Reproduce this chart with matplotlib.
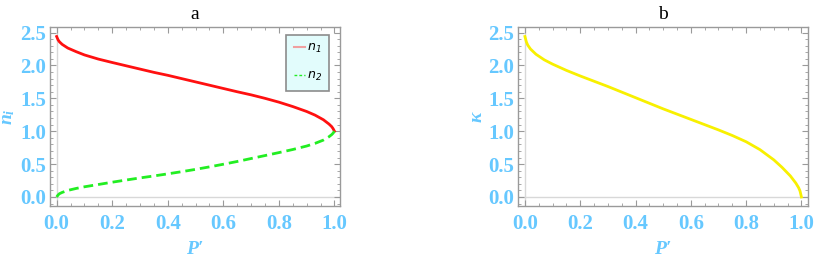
import numpy as np
import matplotlib
matplotlib.use("Agg")
from matplotlib import pyplot as plt
from matplotlib.lines import Line2D
import matplotlib.ticker as ticker

# values
p = [0.0, 0.005, 0.01, 0.02, 0.04, 0.07, 0.1, 0.15, 0.2, 0.25, 0.3, 0.35, 0.4,
     0.45, 0.5, 0.55, 0.6, 0.65, 0.7, 0.75, 0.8, 0.85, 0.9, 0.93, 0.96, 0.98,
     0.99, 0.995, 1.0]
n1 = [2.44, 2.39, 2.36, 2.32, 2.265, 2.21, 2.16, 2.097, 2.045, 1.995, 1.945, 1.895, 1.85,
      1.80, 1.75, 1.70, 1.65, 1.60, 1.553, 1.50, 1.442, 1.375, 1.30, 1.245, 1.175, 1.11,
      1.07, 1.04, 1.00]
n2 = [0.00, 0.03, 0.05, 0.07, 0.10, 0.13, 0.155, 0.19, 0.225, 0.258, 0.29, 0.32, 0.352,
      0.385, 0.42, 0.458, 0.498, 0.54, 0.585, 0.63, 0.675, 0.722, 0.775, 0.815, 0.865, 0.915,
      0.948, 0.97, 1.00]
kappa = [2.44, 2.36, 2.31, 2.25, 2.17, 2.085, 2.02, 1.925, 1.84, 1.76, 1.68, 1.595, 1.51,
         1.425, 1.34, 1.26, 1.18, 1.10, 1.02, 0.935, 0.84, 0.72, 0.565, 0.45, 0.32, 0.21,
         0.14, 0.09, 0.00]

blue = '#66c8ff'
frame = '#9a9a9a'
plt.rcParams['font.family'] = ['Liberation Serif', 'DejaVu Serif']
plt.rcParams['mathtext.fontset'] = 'custom'
plt.rcParams['mathtext.it'] = 'Liberation Serif:italic:bold'
plt.rcParams['mathtext.rm'] = 'Liberation Serif:bold'
plt.rcParams['mathtext.sf'] = 'DejaVu Sans:italic'


def style(ax, ylabel):
    ax.set_xlim(-0.024, 1.02)
    ax.set_ylim(-0.137, 2.584)
    ax.axhline(0, color='#d8d8d8', lw=1, zorder=0)
    ax.axvline(0, color='#d8d8d8', lw=1, zorder=0)
    ax.xaxis.set_major_locator(ticker.MultipleLocator(0.2))
    ax.xaxis.set_minor_locator(ticker.MultipleLocator(0.05))
    ax.yaxis.set_major_locator(ticker.MultipleLocator(0.5))
    ax.yaxis.set_minor_locator(ticker.MultipleLocator(0.1))
    ax.xaxis.set_major_formatter(ticker.FormatStrFormatter('%.1f'))
    ax.yaxis.set_major_formatter(ticker.FormatStrFormatter('%.1f'))
    ax.tick_params(which='both', direction='in', top=True, right=True, color=frame,
                   labelcolor=blue, labelsize=15)
    ax.tick_params(which='major', length=4, width=0.8)
    ax.tick_params(which='minor', length=2, width=0.6)
    ax.tick_params(axis='x', pad=6)
    ax.tick_params(axis='y', pad=3)
    for lab in ax.get_xticklabels() + ax.get_yticklabels():
        lab.set_fontweight('bold')
    for s in ax.spines.values():
        s.set_color(frame)
        s.set_linewidth(1)
    ax.set_xlabel("P′", style='italic', weight='bold',
                  fontsize=14, color=blue, labelpad=5)
    ax.set_ylabel(ylabel, style='italic', weight='bold',
                  fontsize=14, color=blue, labelpad=2)


fig = plt.figure(figsize=(8.14, 2.59), dpi=100)
ax1 = fig.add_axes([0.0614, 0.2046, 0.3563, 0.691])
ax2 = fig.add_axes([0.6364, 0.2046, 0.3563, 0.691])

ax1.plot(p, n1, color='#ff1010', lw=2)
ax1.plot(p, n2, color='#22ee22', lw=2, dashes=(3.5, 1.8))
style(ax1, "$n_i$")
ax1.set_title("a", fontsize=14, pad=6)

handles = [Line2D([], [], color='#f0a0a0', lw=1.5),
           Line2D([], [], color='#22ee22', lw=1.0, dashes=(2, 1.5))]
leg = ax1.legend(handles, [r"$\mathsf{n_1}$", r"$\mathsf{n_2}$"], loc='upper right',
                 bbox_to_anchor=(0.963, 0.957), fontsize=9, labelspacing=1.2,
                 handlelength=0.9, handletextpad=0.15, borderpad=0.6,
                 borderaxespad=0, fancybox=False, framealpha=1)
leg.get_frame().set_facecolor('#e2fcfc')
leg.get_frame().set_edgecolor('#8c8c8c')
leg.get_frame().set_linewidth(1.2)

ax2.plot(p, kappa, color='#f8f000', lw=2)
style(ax2, "κ")
ax2.set_xlim(-0.025, 1.024)
ax2.set_title("b", fontsize=14, pad=6)

fig.savefig("out.png", dpi=100)
